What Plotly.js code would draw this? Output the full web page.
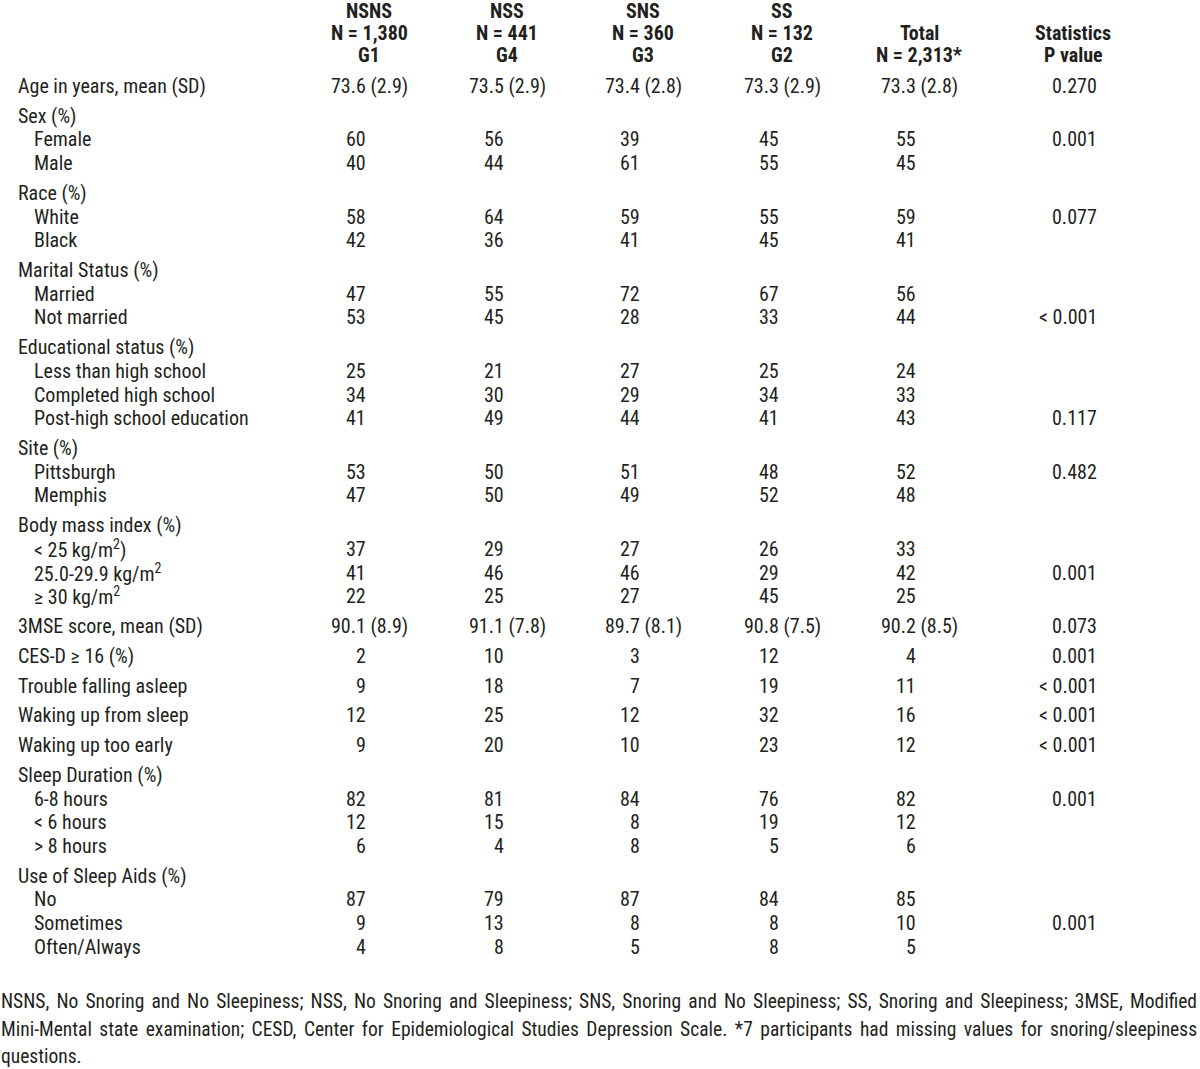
<!DOCTYPE html>
<html>
<head>
<meta charset="utf-8">
<script src="https://cdn.plot.ly/plotly-3.0.1.min.js"></script>
<style>html,body{margin:0;padding:0;background:#fff;}#chart{width:1200px;height:1069px;}</style>
</head>
<body>
<div id="chart"></div>
<script>
// ---------- DATA ----------
const headerLines = [
  ["NSNS", "N = 1,380", "G1"],
  ["NSS", "N = 441", "G4"],
  ["SNS", "N = 360", "G3"],
  ["SS", "N = 132", "G2"],
  ["Total", "N = 2,313*"],
  ["Statistics", "P value"]
];
const rowLabels = [
  "Age in years, mean (SD)", "Sex (%)", "Female", "Male", "Race (%)", "White", "Black",
  "Marital Status (%)", "Married", "Not married", "Educational status (%)",
  "Less than high school", "Completed high school", "Post-high school education",
  "Site (%)", "Pittsburgh", "Memphis", "Body mass index (%)",
  "< 25 kg/m<sup>2</sup>)", "25.0-29.9 kg/m<sup>2</sup>", "≥ 30 kg/m<sup>2</sup>",
  "3MSE score, mean (SD)", "CES-D ≥ 16 (%)", "Trouble falling asleep",
  "Waking up from sleep", "Waking up too early", "Sleep Duration (%)",
  "6-8 hours", "< 6 hours", "> 8 hours", "Use of Sleep Aids (%)",
  "No", "Sometimes", "Often/Always"
];
// row kind: s = single row, h = section heading, i = indented sub-row
const rowKinds = ["s","h","i","i","h","i","i","h","i","i","h","i","i","i","h","i","i","h","i","i","i","s","s","s","s","s","h","i","i","i","h","i","i","i"];
const nsns  = ["73.6 (2.9)","","60","40","","58","42","","47","53","","25","34","41","","53","47","","37","41","22","90.1 (8.9)","2","9","12","9","","82","12","6","","87","9","4"];
const nss   = ["73.5 (2.9)","","56","44","","64","36","","55","45","","21","30","49","","50","50","","29","46","25","91.1 (7.8)","10","18","25","20","","81","15","4","","79","13","8"];
const sns   = ["73.4 (2.8)","","39","61","","59","41","","72","28","","27","29","44","","51","49","","27","46","27","89.7 (8.1)","3","7","12","10","","84","8","8","","87","8","5"];
const ss    = ["73.3 (2.9)","","45","55","","55","45","","67","33","","25","34","41","","48","52","","26","29","45","90.8 (7.5)","12","19","32","23","","76","19","5","","84","8","8"];
const total = ["73.3 (2.8)","","55","45","","59","41","","56","44","","24","33","43","","52","48","","33","42","25","90.2 (8.5)","4","11","16","12","","82","12","6","","85","10","5"];
const pvals = ["0.270","","0.001","","","0.077","","","","< 0.001","","","","0.117","","0.482","","","","0.001","","0.073","0.001","< 0.001","< 0.001","< 0.001","","0.001","","","","","0.001",""];
const footnoteLines = [
  "NSNS, No Snoring and No Sleepiness; NSS, No Snoring and Sleepiness; SNS, Snoring and No Sleepiness; SS, Snoring and Sleepiness; 3MSE, Modified",
  "Mini-Mental state examination; CESD, Center for Epidemiological Studies Depression Scale. *7 participants had missing values for snoring/sleepiness",
  "questions."
];

// ---------- LAYOUT CONSTANTS ----------
const FONT = '"Roboto Condensed", "Open Sans", sans-serif';
const COLOR = "#231f20";
const SIZE = 20;
const FOOT_SIZE = 19.5;
const colCenters = [369, 507, 643, 782, 919];
const pRight = 1098, pHeaderCenter = 1073;
const labelX = 17, indentX = 33;
const headerY = [11, 33, 55];
const firstRowY = 86, stepMain = 29.8, stepSub = 23.67;
const footY = [1001, 1029, 1056];
const justifyWidth = 1197;   // footnote lines 1-2 are justified to the full width

const ann = [];
function add(text, x, y, xanchor, opts) {
  ann.push(Object.assign({text: text, x: x, y: y, xref: "x", yref: "y", xanchor: xanchor, yanchor: "middle",
    showarrow: false, borderpad: 0, font: {family: FONT, size: SIZE, color: COLOR}}, opts || {}));
}
// header
headerLines.forEach((lines, c) => {
  const offset = 3 - lines.length;
  lines.forEach((t, k) => {
    const x = c < 5 ? colCenters[c] : pHeaderCenter;
    add("<b>" + t + "</b>", x, headerY[k + offset], "center");
  });
});
// body
const cols = [nsns, nss, sns, ss, total];
let y = firstRowY;
rowLabels.forEach((lab, r) => {
  if (r > 0) y += (rowKinds[r] === "i") ? stepSub : stepMain;
  add(lab, rowKinds[r] === "i" ? indentX : labelX, y, "left");
  cols.forEach((col, c) => {
    const v = col[r];
    if (!v) return;
    if (v.indexOf("(") >= 0) add(v, colCenters[c], y, "center");
    else add(v, colCenters[c] - 2, y, "right");
  });
  if (pvals[r]) add(pvals[r], pRight, y, "right");
});
// footnote
const footStart = ann.length;
footnoteLines.forEach((t, k) => add(t, 0, footY[k], "left", {align: "left", font: {family: FONT, size: FOOT_SIZE, color: COLOR}}));

const layout = {
  width: 1200, height: 1069,
  margin: {l: 0, r: 0, t: 0, b: 0},
  paper_bgcolor: "#ffffff", plot_bgcolor: "#ffffff",
  xaxis: {range: [0, 1200], visible: false, fixedrange: true},
  yaxis: {range: [1069, 0], visible: false, fixedrange: true},
  showlegend: false,
  annotations: ann
};
Plotly.newPlot("chart", [], layout, {displayModeBar: false, staticPlot: true}).then(gd => {
  // justify the first two footnote lines (word spacing), as in the printed table
  const texts = gd.querySelectorAll(".annotation .annotation-text");
  const left0 = gd.getBoundingClientRect().left;
  [0, 1].forEach(k => {
    const el = texts[footStart + k];
    if (!el) return;
    el.setAttribute("text-anchor", "start");
    const r = el.getBoundingClientRect();
    const spaces = (footnoteLines[k].match(/ /g) || []).length;
    const extra = (justifyWidth - (r.right - left0)) / spaces;
    if (extra > 0) el.style.wordSpacing = extra.toFixed(2) + "px";
  });
});
</script>
</body>
</html>
